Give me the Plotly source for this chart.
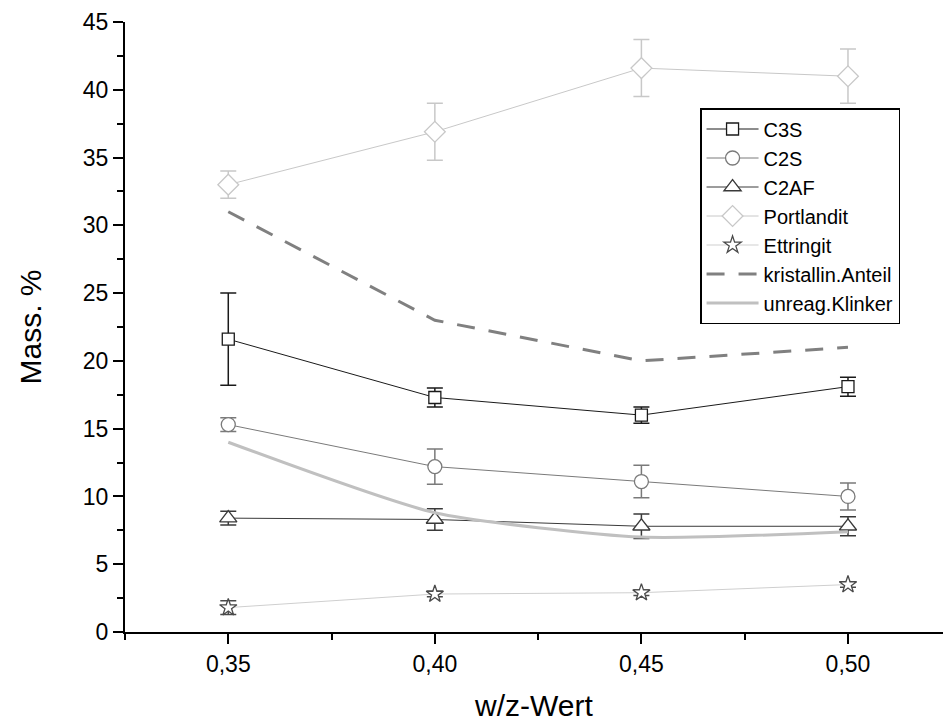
import plotly.graph_objects as go

# w/z ratios
wz = [0.35, 0.40, 0.45, 0.50]
wz_labels = ["0,35", "0,40", "0,45", "0,50"]

# phase contents (Mass. %) with standard deviations
c3s = [21.6, 17.3, 16.0, 18.1]
c3s_err = [3.4, 0.7, 0.6, 0.7]
c2s = [15.3, 12.2, 11.1, 10.0]
c2s_err = [0.5, 1.3, 1.2, 1.0]
c2af = [8.4, 8.3, 7.8, 7.8]
c2af_err = [0.5, 0.8, 0.9, 0.7]
portlandit = [33.0, 36.9, 41.6, 41.0]
portlandit_err = [1.0, 2.1, 2.1, 2.0]
ettringit = [1.8, 2.8, 2.9, 3.5]
ettringit_err = [0.5, 0.2, 0.2, 0.2]
kristallin = [31.0, 23.0, 20.0, 21.0]
klinker = [14.0, 8.8, 7.0, 7.4]

FONT = "Liberation Sans, Arial, sans-serif"

fig = go.Figure()


def add_series(name, y, err, symbol, line_color, marker_color, err_color, msize=11, lw=1):
    # white-filled markers with a coloured outline, so the line stops at the symbol edge
    fig.add_trace(go.Scatter(
        x=wz, y=y, name=name, mode="lines+markers",
        line=dict(color=line_color, width=lw),
        marker=dict(symbol=symbol, size=msize, color="white",
                    line=dict(color=marker_color, width=1.3)),
        error_y=dict(type="data", array=err, visible=True,
                     color=err_color, thickness=1.5, width=8),
    ))


add_series("C3S", c3s, c3s_err, "square", "#1a1a1a", "#1a1a1a", "#1a1a1a", msize=12)
add_series("C2S", c2s, c2s_err, "circle", "#7a7a7a", "#7a7a7a", "#7a7a7a", msize=14)
add_series("C2AF", c2af, c2af_err, "triangle-up", "#3a3a3a", "#3a3a3a", "#3a3a3a", msize=15)
add_series("Portlandit", portlandit, portlandit_err, "diamond", "#c8c8c8", "#c8c8c8", "#c8c8c8", msize=16)
add_series("Ettringit", ettringit, ettringit_err, "star", "#cfcfcf", "#4a4a4a", "#4a4a4a", msize=13)

fig.add_trace(go.Scatter(
    x=wz, y=kristallin, name="kristallin.Anteil", mode="lines",
    line=dict(color="#808080", width=3, dash="18px,14px"),
))
fig.add_trace(go.Scatter(
    x=wz, y=klinker, name="unreag.Klinker", mode="lines",
    line=dict(color="#c0c0c0", width=3, shape="spline", smoothing=0.6),
))

fig.update_layout(
    width=943, height=725,
    margin=dict(l=125, r=0, t=22, b=93),
    paper_bgcolor="white", plot_bgcolor="white",
    font=dict(family=FONT, color="black"),
    showlegend=True,
    legend=dict(
        x=0.703, y=0.859, xanchor="left", yanchor="top",
        bordercolor="black", borderwidth=1.5, bgcolor="white",
        font=dict(size=20, family=FONT), itemwidth=52, tracegroupgap=0,
    ),
    xaxis=dict(
        range=[0.325, 0.523], tickvals=wz, ticktext=wz_labels,
        showgrid=False, zeroline=False,
        showline=True, linecolor="black", linewidth=2,
        ticks="outside", ticklen=10, tickwidth=2, tickcolor="black",
        tickfont=dict(size=23, family=FONT),
        minor=dict(ticks="outside", ticklen=6, tickwidth=2, tickcolor="black",
                   tick0=0.325, dtick=0.025),
        title=dict(text="w/z-Wert", font=dict(size=30, family=FONT), standoff=19),
    ),
    yaxis=dict(
        range=[0, 45], tickvals=[0, 5, 10, 15, 20, 25, 30, 35, 40, 45],
        showgrid=False, zeroline=False,
        showline=True, linecolor="black", linewidth=2,
        ticks="outside", ticklen=10, tickwidth=2, tickcolor="black",
        tickfont=dict(size=23, family=FONT),
        minor=dict(ticks="outside", ticklen=6, tickwidth=2, tickcolor="black",
                   tick0=0, dtick=2.5),
        title=dict(text="Mass. %", font=dict(size=30, family=FONT), standoff=32),
    ),
)

fig.write_html("out.html")
